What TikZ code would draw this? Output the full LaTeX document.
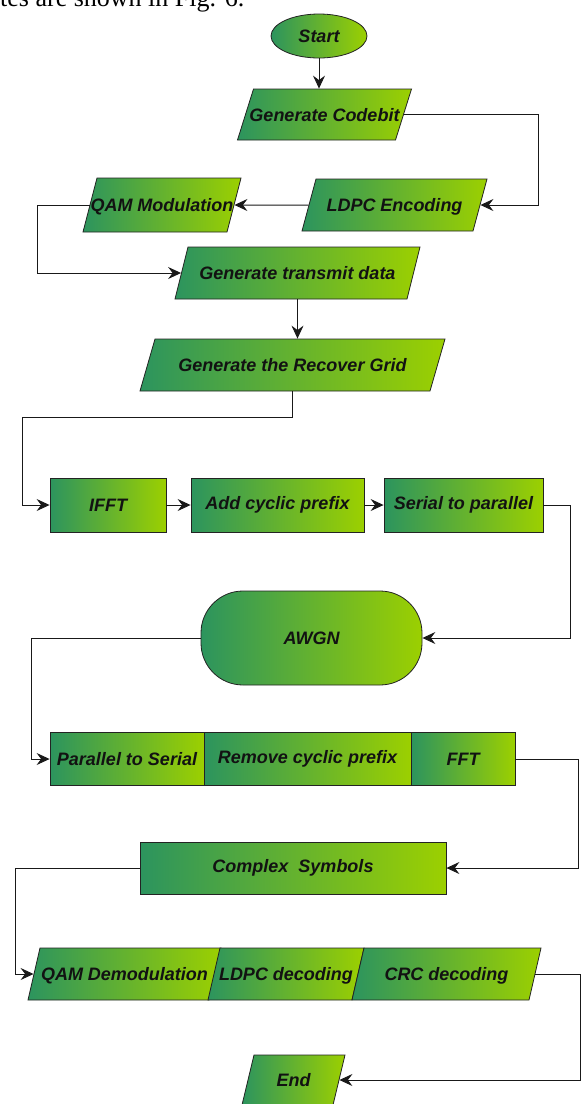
\documentclass[tikz,border=0pt]{standalone}
\usepackage{fontspec}
\setmainfont{Liberation Serif}
\newfontfamily\boxfont{Liberation Sans}
\usetikzlibrary{shapes.geometric,arrows.meta}

\definecolor{gdark}{RGB}{44,148,94}
\definecolor{glight}{RGB}{156,208,0}
\definecolor{edge}{RGB}{35,35,35}
\definecolor{wire}{RGB}{25,25,25}
\definecolor{ink}{RGB}{18,18,18}

\tikzset{
  base/.style={draw=edge, line width=0.8pt, left color=gdark, right color=glight,
    inner sep=0pt, text=ink, font=\boxfont\bfseries\itshape\fontsize{18}{21}\selectfont},
  box/.style 2 args={base, rectangle, minimum width=#1, minimum height=#2},
  % parallelogram: width, height (pt), horizontal slant (pt)
  para/.code n args={3}{%
    \pgfmathsetmacro\parath{#2/2+6.5}%
    \pgfmathsetmacro\paratd{#2/2-6.5}%
    \pgfmathsetmacro\paraang{atan(#2/#3)}%
    \pgfmathsetmacro\paraobt{180-\paraang}%
    \edef\paraopts{\noexpand\pgfkeysalso{base, trapezium, trapezium stretches body=true,
      trapezium left angle=\paraang, trapezium right angle=\paraobt,
      minimum width=#1pt, text height=\parath pt, text depth=\paratd pt}}%
    \paraopts},
  conn/.style={draw=wire, line width=1pt},
  arr/.style={conn, -{Stealth[length=13pt,width=12pt,inset=4.5pt]}}
}
\newcommand{\lbl}[1]{\makebox[0pt]{#1}}

\begin{document}
\begin{tikzpicture}[x=1pt, y=-1pt]
  \path[use as bounding box] (0,0) rectangle (581,1104);
  \clip (0,0) rectangle (581,1104);

  % running text of the page above the figure
  \node[anchor=base west, inner sep=0pt, font=\fontsize{26}{28}\selectfont] (caption) at (0,6) {tes are shown in Fig. 6.};

  % transmitter
  \node[base, ellipse, minimum width=96pt, minimum height=44pt] (start) at (319,36) {\lbl{Start}};
  \node[para={174}{51}{16}] (gcb) at (324.5,114.5) {\lbl{Generate Codebit}};
  \node[para={185}{52}{14}] (ldpc) at (394.5,205) {\lbl{LDPC Encoding}};
  \node[para={158}{54}{14}] (qam) at (162,205) {\lbl{QAM Modulation}};
  \node[para={245}{52}{13}] (gtd) at (297.5,273) {\lbl{Generate transmit data}};
  \node[para={305}{52}{15}] (grid) at (292.5,365) {\lbl{Generate the Recover Grid}};

  \node[box={116pt}{54pt}] (ifft) at (108,505) {\lbl{IFFT}};
  \node[box={173pt}{54pt}] (acp) at (277.5,505) {\lbl{Add cyclic prefix}};
  \node[box={159pt}{54pt}] (s2p) at (463.5,505) {\lbl{Serial to parallel}};

  % channel
  \node[base, rectangle, rounded corners=42pt, minimum width=221pt, minimum height=94pt] (awgn) at (311.5,638) {\lbl{AWGN}};

  % receiver
  \node[box={154pt}{53pt}] (p2s) at (127,759) {\lbl{Parallel to Serial}};
  \node[box={207pt}{53pt}] (rcp) at (307.5,759) {\lbl{Remove cyclic prefix}};
  \node[box={104pt}{53pt}] (fft) at (463,759) {\lbl{FFT}};
  \node[box={306pt}{52pt}] (cs) at (293,868) {\lbl{Complex\ \ Symbols}};

  \node[para={193}{52}{12}] (qamd) at (124.5,974) {\lbl{QAM Demodulation}};
  \node[para={156}{52}{12}] (ldpcd) at (286,974) {\lbl{LDPC decoding}};
  \node[para={189}{52}{12}] (crc) at (446.5,974) {\lbl{CRC decoding}};
  \node[para={103}{50}{12}] (end) at (293.5,1080) {\lbl{End}};

  % rails used by the routed connectors
  \coordinate (xr1) at (538,0);
  \coordinate (xl1) at (37,0);
  \coordinate (yg) at (0,417);
  \coordinate (xl2) at (22,0);
  \coordinate (xr2) at (570,0);
  \coordinate (xl3) at (31,0);
  \coordinate (xr3) at (578,0);
  \coordinate (xl4) at (15,0);
  \coordinate (xr4) at (580,0);

  % connectors
  \draw[arr] (start) -- (start |- gcb.north);
  \draw[arr] (gcb.east) -- (gcb.east -| xr1) |- (ldpc.east);
  \draw[arr] (ldpc.west) -- (qam.east);
  \draw[arr] (qam.west) -- (qam.west -| xl1) |- (gtd.west);
  \draw[arr] (gtd.south) -- (gtd.south |- grid.north);
  \draw[arr] (grid.south) -- (grid.south |- yg) -- (xl2 |- yg) |- (ifft.west);
  \draw[arr] (ifft.east) -- (acp.west);
  \draw[arr] (acp.east) -- (s2p.west);
  \draw[arr] (s2p.east) -- (s2p.east -| xr2) |- (awgn.east);
  \draw[arr] (awgn.west) -- (awgn.west -| xl3) |- (p2s.west);
  \draw[arr] (fft.east) -- (fft.east -| xr3) |- (cs.east);
  \draw[arr] (cs.west) -- (cs.west -| xl4) |- (qamd.west);
  \draw[arr] (crc.east) -- (crc.east -| xr4) |- (end.east);
\end{tikzpicture}
\end{document}
